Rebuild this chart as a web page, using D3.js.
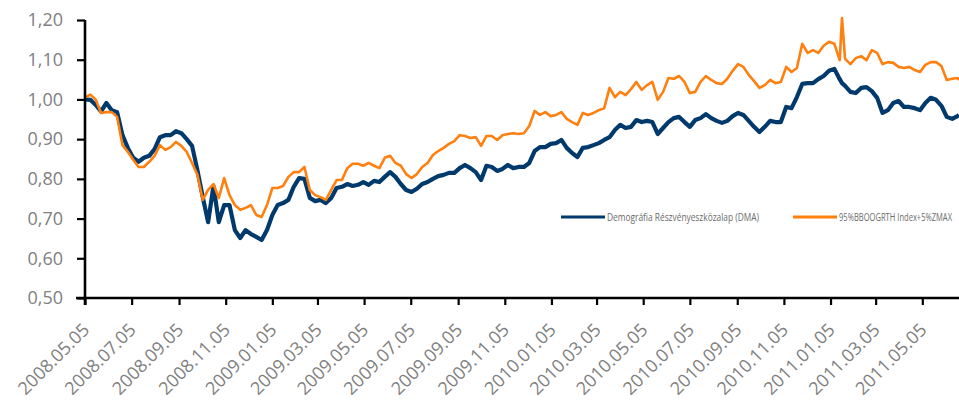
<!DOCTYPE html>
<html>
<head>
<meta charset="utf-8">
<script src="https://cdn.jsdelivr.net/npm/d3@7"></script>
<style>
  body { margin: 0; background: #fff; }
  svg { display: block; font-family: "Open Sans", sans-serif; }
</style>
</head>
<body>
<svg id="chart" width="959" height="400"></svg>
<script>
// weekly readings (plus one spike day and the last day shown)
var dates = [
    "2008-05-05","2008-05-12","2008-05-19","2008-05-26","2008-06-02","2008-06-09","2008-06-16","2008-06-23","2008-06-30",
    "2008-07-07","2008-07-14","2008-07-21","2008-07-28","2008-08-04","2008-08-11","2008-08-18","2008-08-25",
    "2008-09-01","2008-09-08","2008-09-15","2008-09-22","2008-09-29","2008-10-06","2008-10-13","2008-10-20","2008-10-27",
    "2008-11-03","2008-11-10","2008-11-17","2008-11-24","2008-12-01","2008-12-08","2008-12-15","2008-12-22","2008-12-29",
    "2009-01-05","2009-01-12","2009-01-19","2009-01-26","2009-02-02","2009-02-09","2009-02-16","2009-02-23",
    "2009-03-02","2009-03-09","2009-03-16","2009-03-23","2009-03-30","2009-04-06","2009-04-13","2009-04-20","2009-04-27",
    "2009-05-04","2009-05-11","2009-05-18","2009-05-25","2009-06-01","2009-06-08","2009-06-15","2009-06-22","2009-06-29",
    "2009-07-06","2009-07-13","2009-07-20","2009-07-27","2009-08-03","2009-08-10","2009-08-17","2009-08-24","2009-08-31",
    "2009-09-07","2009-09-14","2009-09-21","2009-09-28","2009-10-05","2009-10-12","2009-10-19","2009-10-26",
    "2009-11-02","2009-11-09","2009-11-16","2009-11-23","2009-11-30","2009-12-07","2009-12-14","2009-12-21","2009-12-28",
    "2010-01-04","2010-01-11","2010-01-18","2010-01-25","2010-02-01","2010-02-08","2010-02-15","2010-02-22",
    "2010-03-01","2010-03-08","2010-03-15","2010-03-22","2010-03-29","2010-04-05","2010-04-12","2010-04-19","2010-04-26",
    "2010-05-03","2010-05-10","2010-05-17","2010-05-24","2010-05-31","2010-06-07","2010-06-14","2010-06-21","2010-06-28",
    "2010-07-05","2010-07-12","2010-07-19","2010-07-26","2010-08-02","2010-08-09","2010-08-16","2010-08-23","2010-08-30",
    "2010-09-06","2010-09-13","2010-09-20","2010-09-27","2010-10-04","2010-10-11","2010-10-18","2010-10-25",
    "2010-11-01","2010-11-08","2010-11-15","2010-11-22","2010-11-29","2010-12-06","2010-12-13","2010-12-20","2010-12-27",
    "2011-01-03","2011-01-10","2011-01-17","2011-01-20","2011-01-24","2011-01-31","2011-02-07","2011-02-14","2011-02-21",
    "2011-02-28","2011-03-07","2011-03-14","2011-03-21","2011-03-28","2011-04-04","2011-04-11","2011-04-18","2011-04-25",
    "2011-05-02","2011-05-09","2011-05-16","2011-05-23","2011-05-30","2011-06-06","2011-06-13","2011-06-20","2011-06-22"];

var dma = [
    1.000, 0.999, 0.986, 0.970, 0.991, 0.973, 0.968, 0.910, 0.878, 0.853,
    0.843, 0.853, 0.858, 0.875, 0.905, 0.910, 0.910, 0.920, 0.915, 0.900,
    0.883, 0.822, 0.754, 0.691, 0.782, 0.691, 0.734, 0.734, 0.671, 0.651,
    0.671, 0.661, 0.654, 0.646, 0.671,
    0.709, 0.734, 0.739, 0.747, 0.780, 0.802, 0.800, 0.752, 0.744, 0.747,
    0.739, 0.752, 0.777, 0.780, 0.787, 0.782, 0.785, 0.792, 0.785, 0.795,
    0.792, 0.805, 0.817, 0.805, 0.787, 0.772, 0.767, 0.775, 0.787, 0.792,
    0.800, 0.807, 0.810, 0.815, 0.815, 0.827, 0.835, 0.827, 0.817, 0.797,
    0.833, 0.830, 0.820, 0.825, 0.835, 0.827, 0.830, 0.830, 0.840, 0.870,
    0.880, 0.880,
    0.888, 0.890, 0.898, 0.878, 0.865, 0.855, 0.878, 0.880, 0.885, 0.890,
    0.898, 0.905, 0.923, 0.936, 0.928, 0.931, 0.948, 0.943, 0.946, 0.943,
    0.913, 0.928, 0.943, 0.953, 0.956, 0.943, 0.931, 0.948, 0.953, 0.963,
    0.953, 0.946, 0.941, 0.946, 0.958, 0.966, 0.961, 0.946, 0.931, 0.918,
    0.931, 0.946, 0.943, 0.943, 0.981, 0.978, 1.006, 1.039, 1.041, 1.041,
    1.051, 1.059,
    1.072, 1.077, 1.051, 1.041, 1.034, 1.019, 1.016, 1.029, 1.031, 1.021,
    1.004, 0.966, 0.973, 0.991, 0.996, 0.981, 0.981, 0.978, 0.973, 0.991,
    1.004, 0.999, 0.984, 0.956, 0.951, 0.958, 0.961];

var bench = [
    1.005, 1.012, 1.000, 0.966, 0.968, 0.968, 0.956, 0.885, 0.868, 0.848,
    0.830, 0.830, 0.843, 0.858, 0.885, 0.873, 0.880, 0.893, 0.883, 0.868,
    0.840, 0.810, 0.747, 0.772, 0.787, 0.752, 0.802, 0.759, 0.734, 0.722,
    0.727, 0.734, 0.709, 0.704, 0.734,
    0.777, 0.777, 0.782, 0.805, 0.817, 0.817, 0.830, 0.772, 0.759, 0.754,
    0.747, 0.772, 0.797, 0.797, 0.827, 0.838, 0.838, 0.833, 0.840, 0.833,
    0.827, 0.853, 0.858, 0.840, 0.833, 0.812, 0.802, 0.812, 0.830, 0.840,
    0.860, 0.870, 0.878, 0.888, 0.895, 0.910, 0.908, 0.903, 0.905, 0.883,
    0.908, 0.908, 0.898, 0.910, 0.913, 0.915, 0.913, 0.915, 0.933, 0.971,
    0.961, 0.968,
    0.958, 0.961, 0.968, 0.951, 0.943, 0.936, 0.966, 0.961, 0.966, 0.973,
    0.978, 1.029, 1.006, 1.019, 1.011, 1.026, 1.044, 1.024, 1.036, 1.044,
    0.999, 1.019, 1.054, 1.052, 1.059, 1.044, 1.016, 1.019, 1.044, 1.059,
    1.049, 1.041, 1.039, 1.052, 1.072, 1.089, 1.082, 1.062, 1.046, 1.029,
    1.036, 1.049, 1.041, 1.044, 1.082, 1.069, 1.079, 1.140, 1.117, 1.124,
    1.117, 1.135,
    1.145, 1.140, 1.099, 1.205, 1.102, 1.089, 1.104, 1.109, 1.099, 1.124,
    1.117, 1.089, 1.094, 1.092, 1.082, 1.079, 1.082, 1.074, 1.069, 1.087,
    1.094, 1.094, 1.084, 1.049, 1.052, 1.054, 1.049];

var tickDates = [
    "2008-05-05","2008-07-05","2008-09-05","2008-11-05","2009-01-05","2009-03-05","2009-05-05",
    "2009-07-05","2009-09-05","2009-11-05","2010-01-05","2010-03-05","2010-05-05","2010-07-05",
    "2010-09-05","2010-11-05","2011-01-05","2011-03-05","2011-05-05"];
var yTicks = [0.5, 0.6, 0.7, 0.8, 0.9, 1.0, 1.1, 1.2];
var seriesNames = ["Demográfia Részvényeszközalap (DMA)", "95%BBOOGRTH Index+5%ZMAX"];
var seriesColors = ["#003a6c", "#ff7f0f"];

var parse = d3.utcParse("%Y-%m-%d");
var huFormat = d3.formatLocale({decimal: ",", thousands: " ", grouping: [3], currency: ["", " Ft"]});

var svg = d3.select("#chart");
var plotLeft = 85, plotRight = 959, plotTop = 20, plotBottom = 298;

var x = d3.scaleUtc()
    .domain([parse("2008-05-05"), parse("2011-06-22")])
    .range([plotLeft, plotRight]);
var y = d3.scaleLinear()
    .domain([0.5, 1.2])
    .range([plotBottom, plotTop]);

//Lines, blue first so the orange sits on top
var rows = dates.map(function (d, i) {
    return {date: parse(d), dma: dma[i], bench: bench[i]};
});

var lineDma = d3.line()
    .x(function (d) { return x(d.date); })
    .y(function (d) { return y(d.dma); });
var lineBench = d3.line()
    .x(function (d) { return x(d.date); })
    .y(function (d) { return y(d.bench); });

svg.append("path")
    .datum(rows)
    .attr("d", lineDma)
    .attr("fill", "none")
    .attr("stroke", seriesColors[0])
    .attr("stroke-width", 4.2)
    .attr("stroke-linejoin", "round");

svg.append("path")
    .datum(rows)
    .attr("d", lineBench)
    .attr("fill", "none")
    .attr("stroke", seriesColors[1])
    .attr("stroke-width", 2.6)
    .attr("stroke-linejoin", "round");

//Axes
var yAxis = svg.append("g")
    .attr("transform", "translate(" + plotLeft + ",0)")
    .call(d3.axisLeft(y)
        .tickValues(yTicks)
        .tickFormat(huFormat.format(".2f"))
        .tickSize(8)
        .tickSizeOuter(0)
        .tickPadding(14));

var xAxis = svg.append("g")
    .attr("transform", "translate(0," + plotBottom + ")")
    .call(d3.axisBottom(x)
        .tickValues(tickDates.map(parse))
        .tickFormat(d3.utcFormat("%Y.%m.%d"))
        .tickSize(7)
        .tickSizeOuter(0));

xAxis.selectAll("text")
    .attr("x", 0)
    .attr("y", 0)
    .attr("dy", 0)
    .attr("text-anchor", "end")
    .attr("transform", "translate(5,33) rotate(-45)");

[yAxis, xAxis].forEach(function (a) {
    a.select(".domain").attr("stroke", "#000").attr("stroke-width", 2.6);
    a.selectAll(".tick line").attr("stroke", "#000").attr("stroke-width", 2.2);
    a.selectAll("text")
        .attr("fill", "#808080")
        .style("font-family", "'Open Sans', sans-serif")
        .style("font-size", "18px");
});
xAxis.select(".domain").attr("d", "M" + (plotLeft - 9) + ",0H" + plotRight);
yAxis.select(".domain").attr("d", "M0," + plotTop + "V" + (plotBottom + 7));

//Legend
var legend = [
    {name: seriesNames[0], color: seriesColors[0], x: 561, w: 44, len: 152},
    {name: seriesNames[1], color: seriesColors[1], x: 793, w: 44, len: 113}];

var lg = svg.selectAll(".legendItem")
    .data(legend)
    .enter()
    .append("g")
    .attr("class", "legendItem");

lg.append("line")
    .attr("x1", function (d) { return d.x; })
    .attr("x2", function (d) { return d.x + d.w; })
    .attr("y1", 217)
    .attr("y2", 217)
    .attr("stroke", function (d) { return d.color; })
    .attr("stroke-width", 3);

lg.append("text")
    .text(function (d) { return d.name; })
    .attr("x", function (d) { return d.x + d.w + 2; })
    .attr("y", 220.5)
    .attr("textLength", function (d) { return d.len; })
    .attr("lengthAdjust", "spacingAndGlyphs")
    .attr("fill", "#6b6b6b")
    .style("font-size", "10px");
</script>
</body>
</html>
